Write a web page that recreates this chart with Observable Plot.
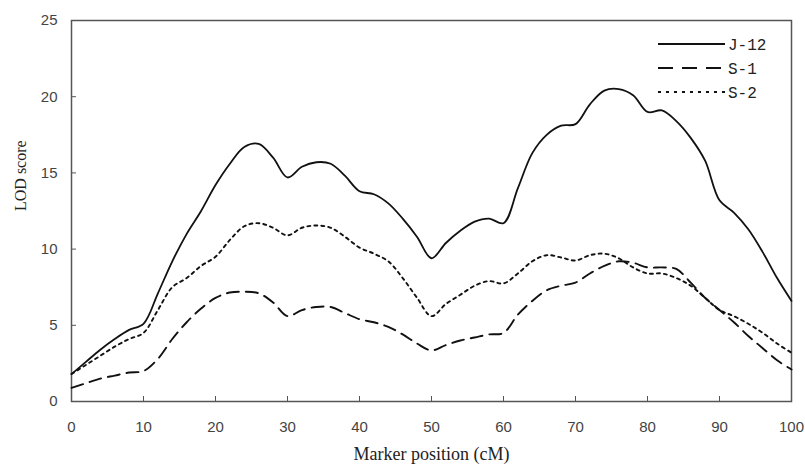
<!DOCTYPE html>
<html>
<head>
<meta charset="utf-8">
<script src="https://cdn.jsdelivr.net/npm/d3@7"></script>
<script src="https://cdn.jsdelivr.net/npm/@observablehq/plot@0.6"></script>
<style>
  html, body { margin: 0; padding: 0; background: #fff; }
  #wrap { position: relative; width: 805px; height: 468px; }
  #legend { position: absolute; left: 650px; top: 32px; }
</style>
</head>
<body>
<div id="wrap">
  <div id="chart"></div>
  <svg id="legend" width="140" height="75"></svg>
</div>
<script>
// Marker positions (cM)
const positions = [0,2,4,6,8,10,12,14,16,18,20,22,24,26,28,30,32,34,36,38,40,42,44,46,48,50,52,54,56,58,60,62,64,66,68,70,72,74,76,78,80,82,84,86,88,90,92,94,96,98,100];
const seriesNames = ["J-12", "S-1", "S-2"];
const j12 = [1.8,2.6,3.4,4.1,4.7,5.1,7.1,9.2,11.0,12.5,14.2,15.6,16.7,16.9,16.0,14.7,15.4,15.7,15.6,14.8,13.8,13.6,13.0,12.0,10.8,9.4,10.4,11.2,11.8,12.0,11.7,14.0,16.3,17.5,18.1,18.2,19.5,20.4,20.5,20.1,19.0,19.1,18.4,17.3,15.8,13.2,12.4,11.3,9.8,8.1,6.6];
const s1 = [0.9,1.2,1.5,1.7,1.9,2.0,2.8,4.1,5.2,6.1,6.8,7.15,7.2,7.1,6.5,5.6,6.0,6.2,6.2,5.8,5.4,5.2,4.9,4.4,3.8,3.35,3.7,4.0,4.2,4.4,4.5,5.7,6.6,7.3,7.6,7.8,8.4,8.9,9.2,9.1,8.8,8.8,8.7,7.8,6.8,6.0,5.2,4.3,3.5,2.7,2.1];
const s2 = [1.8,2.4,3.0,3.6,4.1,4.5,6.0,7.5,8.1,8.9,9.5,10.6,11.5,11.7,11.4,10.9,11.4,11.55,11.4,10.8,10.1,9.7,9.2,8.1,6.8,5.6,6.4,7.0,7.6,7.9,7.75,8.4,9.2,9.6,9.45,9.25,9.6,9.7,9.4,8.8,8.4,8.4,8.1,7.6,6.8,6.0,5.6,5.1,4.5,3.8,3.2];
const xTicks = [0,10,20,30,40,50,60,70,80,90,100];
const yTicks = [0,5,10,15,20,25];
const xTitle = "Marker position (cM)";
const yTitle = "LOD score";

const seriesValues = [j12, s1, s2];
const dashes = [null, "12,7", "3,4"];
const legendDashes = [null, "15,9", "3,5"];
const widths = [1.8, 1.9, 1.9];

const data = [];
seriesNames.forEach((name, i) => {
  positions.forEach((p, k) => data.push({series: name, pos: p, lod: seriesValues[i][k]}));
});

const tickFont = "'Liberation Sans', sans-serif";
const titleFont = "'Liberation Serif', serif";

const lines = seriesNames.map((name, i) =>
  Plot.line(data.filter(d => d.series === name), {
    x: "pos", y: "lod", stroke: "#111", strokeWidth: widths[i],
    strokeDasharray: dashes[i], curve: "catmull-rom"
  })
);

const chart = Plot.plot({
  width: 805,
  height: 468,
  marginLeft: 71,
  marginRight: 14,
  marginTop: 20,
  marginBottom: 67,
  style: {fontFamily: tickFont, fontSize: "15px", color: "#444", background: "#fff"},
  x: {domain: [0, 100]},
  y: {domain: [0, 25]},
  marks: [
    Plot.frame({stroke: "#555", strokeWidth: 1.5}),
    Plot.axisX({ticks: xTicks, tickSize: -5, tickPadding: 25, label: null, fontSize: 15, stroke: "#555"}),
    Plot.axisY({ticks: yTicks, tickSize: -5, tickPadding: 19, label: null, fontSize: 15, stroke: "#555"}),
    ...lines,
    Plot.text([xTitle], {frameAnchor: "bottom", dy: 58, fontFamily: titleFont, fontSize: 18, fill: "#222"}),
    Plot.text([yTitle], {frameAnchor: "left", dx: -51, rotate: -90, fontFamily: titleFont, fontSize: 16, fill: "#222"})
  ]
});
document.getElementById("chart").appendChild(chart);

// Legend
const lg = d3.select("#legend");
seriesNames.forEach((name, i) => {
  const y = 12 + i * 24;
  lg.append("line").attr("x1", 8).attr("x2", 75).attr("y1", y).attr("y2", y)
    .attr("stroke", "#111").attr("stroke-width", widths[i])
    .attr("stroke-dasharray", legendDashes[i]);
  lg.append("text").attr("x", 78).attr("y", y).attr("dy", "0.35em")
    .attr("font-family", "'Liberation Mono', monospace").attr("font-size", 16)
    .attr("fill", "#222").text(name);
});
</script>
</body>
</html>
